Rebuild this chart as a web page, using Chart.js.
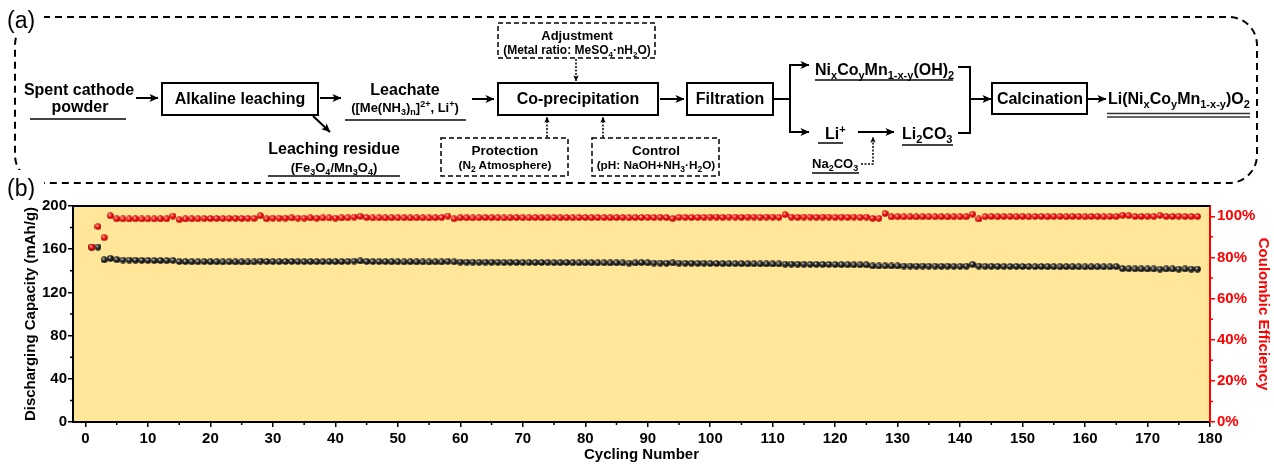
<!DOCTYPE html>
<html>
<head>
<meta charset="utf-8">
<title>Recycling route and cycling performance</title>
<script src="https://cdn.jsdelivr.net/npm/chart.js@4.4.1/dist/chart.umd.min.js"></script>
<style>
  html, body { margin: 0; padding: 0; background: #fff; }
  #wrap { position: relative; width: 1274px; height: 466px; overflow: hidden; }
  #cycle-chart { position: absolute; left: 0; top: 190px; }
  #flow { position: absolute; left: 0; top: 0; }
</style>
</head>
<body>
<div id="wrap">
<canvas id="cycle-chart" width="1274" height="276"></canvas>

<svg id="flow" width="1274" height="200" viewBox="0 0 1274 200" font-family="'Liberation Sans', Arial, Helvetica, sans-serif" font-weight="bold" fill="#000">
  <defs>
    <marker id="head" viewBox="0 0 10 10" refX="9.5" refY="5" markerWidth="9" markerHeight="9" markerUnits="userSpaceOnUse" orient="auto">
      <path d="M0,0.5 L10,5 L0,9.5 L2.5,5 Z"/>
    </marker>
    <marker id="dothead" viewBox="0 0 10 10" refX="9.5" refY="5" markerWidth="6" markerHeight="6" markerUnits="userSpaceOnUse" orient="auto">
      <path d="M0,0.5 L10,5 L0,9.5 L2.5,5 Z"/>
    </marker>
  </defs>

  <!-- dashed frame round the process route -->
  <rect x="15" y="17" width="1242" height="166" rx="28" ry="28" fill="none" stroke="#000" stroke-width="2" stroke-dasharray="7 5"/>
  <rect x="2" y="2" width="42" height="34" fill="#fff"/>
  <text x="7" y="28" font-size="23" font-weight="normal">(a)</text>
  <rect x="2" y="170" width="42" height="30" fill="#fff"/>
  <text x="7" y="196" font-size="23" font-weight="normal">(b)</text>

  <!-- process steps -->
  <g fill="none" stroke="#000" stroke-width="2">
    <rect x="162" y="83" width="156" height="32"/>
    <rect x="498" y="83" width="160" height="32"/>
    <rect x="687" y="83" width="86" height="32"/>
    <rect x="992" y="83" width="95" height="31"/>
  </g>
  <g fill="none" stroke="#000" stroke-width="1.5" stroke-dasharray="5 3">
    <rect x="498" y="23" width="157" height="35"/>
    <rect x="441" y="138" width="127" height="38"/>
    <rect x="592" y="138" width="127" height="38"/>
  </g>

  <!-- solid arrows -->
  <g stroke="#000" stroke-width="2" fill="none" marker-end="url(#head)">
    <line x1="136" y1="98" x2="158" y2="98"/>
    <line x1="320" y1="98" x2="341" y2="98"/>
    <line x1="313" y1="116" x2="330" y2="132"/>
    <line x1="472" y1="99" x2="494" y2="99"/>
    <line x1="660" y1="99" x2="684" y2="99"/>
    <line x1="790" y1="65" x2="809" y2="65"/>
    <line x1="790" y1="132" x2="809" y2="132"/>
    <line x1="970" y1="99" x2="991" y2="99"/>
    <line x1="1087" y1="99" x2="1106" y2="99"/>
    <line x1="858" y1="132" x2="894" y2="132"/>
  </g>
  <g stroke="#000" stroke-width="2" fill="none">
    <line x1="773" y1="99" x2="790" y2="99"/>
    <line x1="790" y1="64" x2="790" y2="133"/>
    <polyline points="958,67 970,67 970,133 958,133"/>
  </g>

  <!-- dotted feed arrows -->
  <g stroke="#000" stroke-width="1.5" fill="none" stroke-dasharray="2 1.5" marker-end="url(#dothead)">
    <line x1="576" y1="59" x2="576" y2="81"/>
    <line x1="547" y1="137" x2="547" y2="117"/>
    <line x1="603" y1="137" x2="603" y2="117"/>
    <polyline points="861,164 873,164 873,137"/>
  </g>

  <!-- underlines of the materials -->
  <g stroke="#444" stroke-width="2">
    <line x1="30" y1="119" x2="126" y2="119"/>
    <line x1="268" y1="176" x2="400" y2="176"/>
    <line x1="345" y1="120" x2="466" y2="120"/>
    <line x1="815" y1="80" x2="953" y2="80"/>
    <line x1="818" y1="143" x2="843" y2="143"/>
    <line x1="902" y1="145" x2="953" y2="145"/>
    <line x1="812" y1="173" x2="859" y2="173"/>
  </g>
  <g stroke="#333" stroke-width="1.6">
    <line x1="1107" y1="113.5" x2="1250" y2="113.5"/>
    <line x1="1107" y1="117" x2="1250" y2="117"/>
  </g>

  <g font-size="16" text-anchor="middle">
    <text x="79" y="95">Spent cathode</text>
    <text x="80" y="112">powder</text>
    <text x="240" y="104">Alkaline leaching</text>
    <text x="334" y="154">Leaching residue</text>
    <text x="405" y="95">Leachate</text>
    <text x="578" y="104">Co-precipitation</text>
    <text x="730" y="104">Filtration</text>
    <text x="1040" y="104">Calcination</text>
  </g>

  <text x="334" y="172" font-size="13" text-anchor="middle">(Fe<tspan font-size="9" dy="3">3</tspan><tspan dy="-3">O</tspan><tspan font-size="9" dy="3">4</tspan><tspan dy="-3">/Mn</tspan><tspan font-size="9" dy="3">3</tspan><tspan dy="-3">O</tspan><tspan font-size="9" dy="3">4</tspan><tspan dy="-3">)</tspan></text>
  <text x="405" y="112" font-size="13" text-anchor="middle">([Me(NH<tspan font-size="9" dy="3">3</tspan><tspan dy="-3">)</tspan><tspan font-size="9" dy="3">n</tspan><tspan dy="-3">]</tspan><tspan font-size="9" dy="-5">2+</tspan><tspan dy="5">, Li</tspan><tspan font-size="9" dy="-5">+</tspan><tspan dy="5">)</tspan></text>

  <text x="815" y="75" font-size="16">Ni<tspan font-size="11" dy="4">x</tspan><tspan dy="-4">Co</tspan><tspan font-size="11" dy="4">y</tspan><tspan dy="-4">Mn</tspan><tspan font-size="11" dy="4">1-x-y</tspan><tspan dy="-4">(OH)</tspan><tspan font-size="11" dy="4">2</tspan></text>
  <text x="1108" y="104" font-size="16">Li(Ni<tspan font-size="11" dy="4">x</tspan><tspan dy="-4">Co</tspan><tspan font-size="11" dy="4">y</tspan><tspan dy="-4">Mn</tspan><tspan font-size="11" dy="4">1-x-y</tspan><tspan dy="-4">)O</tspan><tspan font-size="11" dy="4">2</tspan></text>
  <text x="825" y="139" font-size="16">Li<tspan font-size="11" dy="-6">+</tspan></text>
  <text x="902" y="139" font-size="16">Li<tspan font-size="11" dy="4">2</tspan><tspan dy="-4">CO</tspan><tspan font-size="11" dy="4">3</tspan></text>
  <text x="812" y="168" font-size="13">Na<tspan font-size="9" dy="3">2</tspan><tspan dy="-3">CO</tspan><tspan font-size="9" dy="3">3</tspan></text>

  <g text-anchor="middle">
    <text x="577" y="40" font-size="13">Adjustment</text>
    <text x="577" y="54" font-size="12">(Metal ratio: MeSO<tspan font-size="8" dy="3">4</tspan><tspan dy="-3">·nH</tspan><tspan font-size="8" dy="3">2</tspan><tspan dy="-3">O)</tspan></text>
    <text x="505" y="155" font-size="13.5">Protection</text>
    <text x="505" y="169" font-size="11.8">(N<tspan font-size="8.5" dy="3">2</tspan><tspan dy="-3"> Atmosphere)</tspan></text>
    <text x="656" y="155" font-size="13.5">Control</text>
    <text x="656" y="169" font-size="11.8">(pH: NaOH+NH<tspan font-size="8.5" dy="3">3</tspan><tspan dy="-3">·H</tspan><tspan font-size="8.5" dy="3">2</tspan><tspan dy="-3">O)</tspan></text>
  </g>
</svg>
</div>

<script>
const FONT = "'Liberation Sans', Arial, Helvetica, sans-serif";
const plotFill = '#FFE699';

const xTicks = [0, 10, 20, 30, 40, 50, 60, 70, 80, 90, 100, 110, 120, 130, 140, 150, 160, 170, 180];
const capTicks = [0, 40, 80, 120, 160, 200];
const ceTicks = [0, 20, 40, 60, 80, 100];

// discharge capacity per cycle, mAh/g (cycles 1..178)
const capacity = [
    162.0, 162.0, 150.2, 151.6, 150.3, 150.0, 149.9, 149.8, 149.7, 149.6,
    149.5, 149.5, 149.4, 149.6, 148.6, 148.5, 148.4, 148.4, 148.5, 148.4,
    148.4, 148.3, 148.4, 148.3, 148.3, 148.2, 148.3, 149.0, 148.6, 148.6,
    148.6, 148.6, 148.7, 148.6, 148.5, 148.6, 148.5, 148.5, 148.6, 148.5,
    148.5, 148.7, 149.0, 149.1, 148.7, 148.6, 148.5, 148.5, 148.4, 148.4,
    148.3, 148.4, 148.3, 148.3, 148.2, 148.3, 148.2, 148.7, 148.3, 148.1,
    148.0, 148.0, 147.9, 148.0, 147.9, 147.9, 147.8, 147.9, 147.8, 147.8,
    147.8, 147.7, 147.7, 147.8, 147.6, 147.6, 147.7, 147.6, 147.5, 147.5,
    147.5, 147.4, 147.4, 147.3, 147.4, 147.3, 147.2, 147.3, 147.6, 147.4,
    147.2, 147.2, 147.1, 147.3, 147.1, 147.0, 147.0, 146.9, 147.0, 146.8,
    146.8, 146.7, 146.7, 146.6, 146.6, 146.5, 146.5, 146.4, 146.4, 146.3,
    146.3, 146.2, 146.2, 146.1, 146.1, 146.0, 146.0, 145.9, 145.9, 145.8,
    145.7, 145.7, 145.6, 145.6, 145.5, 144.6, 144.5, 144.6, 144.5, 144.5,
    144.4, 144.4, 144.3, 144.4, 144.3, 144.3, 144.2, 144.3, 144.2, 144.2,
    144.3, 145.9, 144.4, 144.2, 144.2, 144.1, 144.1, 144.0, 144.1, 144.0,
    144.0, 143.9, 144.0, 143.9, 143.9, 143.8, 143.9, 143.8, 143.8, 143.7,
    143.7, 143.8, 143.7, 143.7, 143.9, 142.0, 141.9, 141.8, 141.8, 141.7,
    141.7, 141.6, 141.7, 141.7, 141.6, 141.7, 141.6, 141.6
];

// coulombic efficiency per cycle, % (cycles 1..178)
const efficiency = [
    85.0, 95.0, 89.6, 100.2, 98.8, 98.7, 98.7, 98.8, 98.7, 98.7,
    98.7, 98.8, 98.8, 100.1, 98.4, 98.7, 98.8, 98.8, 98.9, 98.9,
    98.9, 98.9, 99.0, 99.0, 98.9, 99.0, 99.0, 100.3, 98.8, 99.1,
    99.1, 99.1, 99.2, 99.1, 99.1, 99.2, 99.1, 99.2, 99.2, 99.1,
    99.2, 99.3, 99.6, 100.0, 99.4, 99.2, 99.3, 99.2, 99.3, 99.3,
    99.3, 99.2, 99.3, 99.3, 99.2, 99.3, 99.4, 100.1, 98.8, 99.3,
    99.3, 99.2, 99.3, 99.4, 99.3, 99.3, 99.2, 99.3, 99.4, 99.3,
    99.3, 99.4, 99.3, 99.3, 99.4, 99.3, 99.4, 99.3, 99.4, 99.4,
    99.3, 99.4, 99.4, 99.3, 99.4, 99.4, 99.3, 99.4, 99.4, 99.5,
    99.4, 99.5, 99.4, 98.9, 99.5, 99.5, 99.4, 99.5, 99.5, 99.6,
    99.6, 99.5, 99.6, 99.6, 99.5, 99.6, 99.6, 99.5, 99.6, 99.6,
    99.5, 100.8, 99.6, 99.5, 99.6, 99.6, 99.5, 99.6, 99.6, 99.5,
    99.6, 99.5, 99.6, 99.5, 99.6, 99.0, 99.0, 101.3, 99.7, 99.8,
    99.7, 99.8, 99.7, 99.8, 99.8, 99.8, 99.8, 99.7, 99.8, 99.8,
    99.8, 101.0, 98.7, 99.8, 99.9, 99.8, 99.9, 99.9, 99.8, 99.9,
    99.8, 99.9, 99.9, 99.8, 99.9, 99.9, 99.8, 99.9, 99.9, 99.8,
    99.9, 99.9, 99.8, 99.9, 99.9, 100.5, 100.3, 99.9, 99.9, 100.0,
    99.9, 100.4, 99.9, 99.9, 100.0, 99.9, 99.9, 99.9
];

// small shaded spheres used as markers
function makeBall(light, base, dark) {
    const c = document.createElement('canvas');
    c.width = 7;
    c.height = 7;
    const g = c.getContext('2d');
    const grad = g.createRadialGradient(2.4, 2.3, 0.2, 3.5, 3.5, 3.6);
    grad.addColorStop(0, light);
    grad.addColorStop(0.45, base);
    grad.addColorStop(1, dark);
    g.fillStyle = grad;
    g.beginPath();
    g.arc(3.5, 3.5, 3.3, 0, Math.PI * 2);
    g.fill();
    return c;
}

const blackBall = makeBall('#d0d0d0', '#2a2a2a', '#000000');
const redBall = makeBall('#ffd0d0', '#ff1010', '#a00000');

// yellow plot area, top frame line and minor ticks
const plotFrame = {
    id: 'plotFrame',
    beforeDraw(chart) {
        const { ctx, chartArea: a } = chart;
        ctx.save();
        ctx.fillStyle = plotFill;
        ctx.fillRect(a.left, a.top, a.right - a.left, a.bottom - a.top);
        ctx.restore();
    },
    afterDraw(chart) {
        const { ctx, chartArea: a, scales } = chart;
        ctx.save();
        ctx.strokeStyle = '#000';
        ctx.lineWidth = 2;
        ctx.beginPath();
        ctx.moveTo(a.left - 1, a.top);
        ctx.lineTo(a.right, a.top);
        ctx.stroke();

        ctx.lineWidth = 1.5;
        ctx.beginPath();
        for (let v = 5; v < 180; v += 10) {
            const px = scales.x.getPixelForValue(v);
            ctx.moveTo(px, a.bottom);
            ctx.lineTo(px, a.bottom + 3);
        }
        for (let v = 20; v < 200; v += 40) {
            const py = scales.y.getPixelForValue(v);
            ctx.moveTo(a.left, py);
            ctx.lineTo(a.left - 3, py);
        }
        ctx.stroke();

        ctx.strokeStyle = '#ff0000';
        ctx.beginPath();
        for (let v = 10; v < 105; v += 20) {
            const py = scales.y1.getPixelForValue(v);
            ctx.moveTo(a.right, py);
            ctx.lineTo(a.right + 3, py);
        }
        ctx.stroke();
        ctx.restore();
    },
};

const tickFont = { family: FONT, size: 15, weight: 'bold' };
const titleFont = { family: FONT, size: 15, weight: 'bold' };

new Chart(document.getElementById('cycle-chart').getContext('2d'), {
    type: 'scatter',
    data: {
        datasets: [
            {
                label: 'Discharging Capacity',
                data: capacity.map((v, i) => ({ x: i + 1, y: v })),
                yAxisID: 'y',
                pointStyle: blackBall,
                pointRadius: 3.5,
                order: 2,
            },
            {
                // red markers sit on top where the two series meet
                label: 'Coulombic Efficiency',
                data: efficiency.map((v, i) => ({ x: i + 1, y: v })),
                yAxisID: 'y1',
                pointStyle: redBall,
                pointRadius: 3.5,
                order: 1,
            },
        ],
    },
    options: {
        responsive: false,
        animation: false,
        events: [],
        layout: { padding: { top: 16, left: 0, right: 0, bottom: 0 } },
        plugins: {
            legend: { display: false },
            tooltip: { enabled: false },
        },
        scales: {
            x: {
                type: 'linear',
                position: 'bottom',
                min: -2,
                max: 180,
                afterBuildTicks: (s) => { s.ticks = xTicks.map((v) => ({ value: v })); },
                afterFit: (s) => { s.height = 44; },
                ticks: { font: tickFont, color: '#000', padding: 3, maxRotation: 0, autoSkip: false },
                grid: { drawOnChartArea: false, drawTicks: true, tickLength: 5, color: '#000', lineWidth: 1.5 },
                border: { display: true, color: '#000', width: 2 },
                title: { display: true, text: 'Cycling Number', font: titleFont, color: '#000', padding: { top: 0, bottom: 2 } },
            },
            y: {
                type: 'linear',
                position: 'left',
                min: 0,
                max: 200,
                afterBuildTicks: (s) => { s.ticks = capTicks.map((v) => ({ value: v })); },
                afterFit: (s) => { s.width = 73; },
                ticks: { font: tickFont, color: '#000', padding: 1 },
                grid: { drawOnChartArea: false, drawTicks: true, tickLength: 5, color: '#000', lineWidth: 1.5 },
                border: { display: true, color: '#000', width: 2 },
                title: { display: true, text: 'Discharging Capacity (mAh/g)', font: titleFont, color: '#000', padding: { top: 22, bottom: 0 } },
            },
            y1: {
                type: 'linear',
                position: 'right',
                min: 0,
                max: 105,
                afterBuildTicks: (s) => { s.ticks = ceTicks.map((v) => ({ value: v })); },
                afterFit: (s) => { s.width = 64; },
                ticks: { font: tickFont, color: '#ff0000', padding: 2, callback: (v) => v + '%' },
                grid: { drawOnChartArea: false, drawTicks: true, tickLength: 5, color: '#ff0000', lineWidth: 1.5 },
                border: { display: true, color: '#ff0000', width: 2 },
                title: { display: true, text: 'Coulombic Efficiency', font: titleFont, color: '#ff0000', padding: { top: 2, bottom: 0 } },
            },
        },
    },
    plugins: [plotFrame],
});
</script>
</body>
</html>
